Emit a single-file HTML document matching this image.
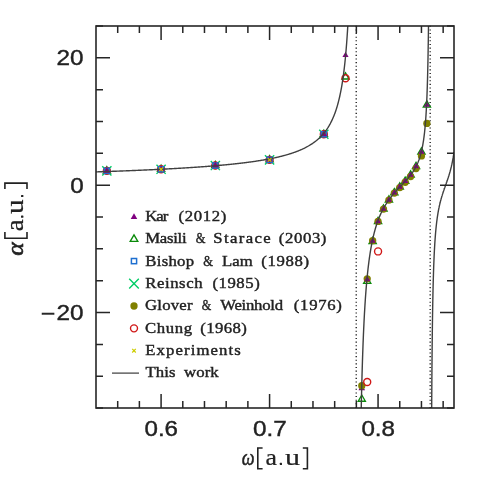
<!DOCTYPE html>
<html><head><meta charset="utf-8"><title>plot</title>
<style>html,body{margin:0;padding:0;background:#fff;overflow:hidden}svg{display:block;will-change:transform}text{font-family:"Liberation Sans",sans-serif;white-space:pre}.s{font-family:"Liberation Serif",serif}.i{font-family:"Liberation Serif",serif;font-style:italic}</style></head><body>
<svg width="479" height="479" viewBox="0 0 479 479">
<rect width="479" height="479" fill="#fff"/>
<defs><clipPath id="c"><rect x="96" y="26" width="358" height="382"/></clipPath></defs>
<line x1="356.25" y1="25.75" x2="356.25" y2="408" stroke="#2e2e2e" stroke-width="1.5" stroke-dasharray="1.1 2.53"/>
<line x1="430.20" y1="25.75" x2="430.20" y2="408" stroke="#2e2e2e" stroke-width="1.5" stroke-dasharray="1.1 2.53"/>
<g><path d="M106.85 166.72 L110.44 172.95 L103.25 172.95 Z" fill="none" stroke="#0a8a0a" stroke-width="1.35" stroke-linejoin="miter"/><path d="M161.09 165.13 L164.68 171.36 L157.50 171.36 Z" fill="none" stroke="#0a8a0a" stroke-width="1.35" stroke-linejoin="miter"/><path d="M215.33 161.38 L218.93 167.60 L211.74 167.60 Z" fill="none" stroke="#0a8a0a" stroke-width="1.35" stroke-linejoin="miter"/><path d="M269.58 155.71 L273.17 161.93 L265.98 161.93 Z" fill="none" stroke="#0a8a0a" stroke-width="1.35" stroke-linejoin="miter"/><path d="M323.82 130.11 L327.41 136.34 L320.22 136.34 Z" fill="none" stroke="#0a8a0a" stroke-width="1.35" stroke-linejoin="miter"/><path d="M345.52 72.81 L349.11 79.04 L341.92 79.04 Z" fill="none" stroke="#0a8a0a" stroke-width="1.35" stroke-linejoin="miter"/><path d="M361.79 394.98 L365.38 401.21 L358.19 401.21 Z" fill="none" stroke="#0a8a0a" stroke-width="1.35" stroke-linejoin="miter"/><path d="M367.21 277.19 L370.81 283.42 L363.62 283.42 Z" fill="none" stroke="#0a8a0a" stroke-width="1.35" stroke-linejoin="miter"/><path d="M372.64 237.46 L376.23 243.69 L369.04 243.69 Z" fill="none" stroke="#0a8a0a" stroke-width="1.35" stroke-linejoin="miter"/><path d="M378.06 217.28 L381.65 223.50 L374.47 223.50 Z" fill="none" stroke="#0a8a0a" stroke-width="1.35" stroke-linejoin="miter"/><path d="M383.49 204.93 L387.08 211.15 L379.89 211.15 Z" fill="none" stroke="#0a8a0a" stroke-width="1.35" stroke-linejoin="miter"/><path d="M388.91 195.95 L392.50 202.17 L385.32 202.17 Z" fill="none" stroke="#0a8a0a" stroke-width="1.35" stroke-linejoin="miter"/><path d="M394.33 188.63 L397.93 194.85 L390.74 194.85 Z" fill="none" stroke="#0a8a0a" stroke-width="1.35" stroke-linejoin="miter"/><path d="M399.76 182.77 L403.35 188.99 L396.16 188.99 Z" fill="none" stroke="#0a8a0a" stroke-width="1.35" stroke-linejoin="miter"/><path d="M405.18 177.17 L408.78 183.39 L401.59 183.39 Z" fill="none" stroke="#0a8a0a" stroke-width="1.35" stroke-linejoin="miter"/><path d="M410.61 170.93 L414.20 177.15 L407.01 177.15 Z" fill="none" stroke="#0a8a0a" stroke-width="1.35" stroke-linejoin="miter"/><path d="M416.03 162.27 L419.62 168.49 L412.44 168.49 Z" fill="none" stroke="#0a8a0a" stroke-width="1.35" stroke-linejoin="miter"/><path d="M421.45 147.94 L425.05 154.17 L417.86 154.17 Z" fill="none" stroke="#0a8a0a" stroke-width="1.35" stroke-linejoin="miter"/><path d="M426.88 100.83 L430.47 107.05 L423.29 107.05 Z" fill="none" stroke="#0a8a0a" stroke-width="1.35" stroke-linejoin="miter"/><path d="M102.25 166.27 L111.45 175.47 M102.25 175.47 L111.45 166.27" stroke="#00cd66" stroke-width="1.4" fill="none"/><path d="M156.49 164.68 L165.69 173.88 M156.49 173.88 L165.69 164.68" stroke="#00cd66" stroke-width="1.4" fill="none"/><path d="M210.73 160.93 L219.93 170.13 M210.73 170.13 L219.93 160.93" stroke="#00cd66" stroke-width="1.4" fill="none"/><path d="M264.98 155.26 L274.18 164.46 M264.98 164.46 L274.18 155.26" stroke="#00cd66" stroke-width="1.4" fill="none"/><path d="M319.22 129.66 L328.42 138.86 M319.22 138.86 L328.42 129.66" stroke="#00cd66" stroke-width="1.4" fill="none"/><path d="M361.79 384.51 L365.08 390.21 L358.50 390.21 Z" fill="#800080"/><circle cx="106.85" cy="170.87" r="3.65" fill="#808000"/><circle cx="161.09" cy="169.28" r="3.65" fill="#808000"/><circle cx="215.33" cy="165.53" r="3.65" fill="#808000"/><circle cx="269.58" cy="159.86" r="3.65" fill="#808000"/><circle cx="323.82" cy="134.26" r="3.65" fill="#808000"/><circle cx="367.21" cy="278.79" r="3.65" fill="#808000"/><circle cx="372.64" cy="240.66" r="3.65" fill="#808000"/><circle cx="378.06" cy="221.43" r="3.65" fill="#808000"/><circle cx="383.49" cy="209.08" r="3.65" fill="#808000"/><circle cx="388.91" cy="200.10" r="3.65" fill="#808000"/><circle cx="394.33" cy="193.10" r="3.65" fill="#808000"/><circle cx="399.76" cy="187.56" r="3.65" fill="#808000"/><circle cx="405.18" cy="182.27" r="3.65" fill="#808000"/><circle cx="410.61" cy="176.48" r="3.65" fill="#808000"/><circle cx="416.03" cy="168.52" r="3.65" fill="#808000"/><circle cx="421.45" cy="155.91" r="3.65" fill="#808000"/><circle cx="426.88" cy="123.44" r="3.65" fill="#808000"/><circle cx="361.79" cy="385.76" r="3.65" fill="#808000"/><circle cx="106.85" cy="170.87" r="3.5" fill="none" stroke="#d01818" stroke-width="1.4"/><circle cx="161.09" cy="169.28" r="3.5" fill="none" stroke="#d01818" stroke-width="1.4"/><circle cx="215.33" cy="165.53" r="3.5" fill="none" stroke="#d01818" stroke-width="1.4"/><circle cx="269.58" cy="159.86" r="3.5" fill="none" stroke="#d01818" stroke-width="1.4"/><circle cx="323.82" cy="134.26" r="3.5" fill="none" stroke="#d01818" stroke-width="1.4"/><circle cx="345.52" cy="78.23" r="3.5" fill="none" stroke="#d01818" stroke-width="1.4"/><circle cx="367.21" cy="381.94" r="3.5" fill="none" stroke="#d01818" stroke-width="1.4"/><circle cx="378.06" cy="251.42" r="3.5" fill="none" stroke="#d01818" stroke-width="1.4"/><rect x="104.25" y="168.27" width="5.20" height="5.20" fill="none" stroke="#1e6fd0" stroke-width="1.5"/><rect x="158.49" y="166.68" width="5.20" height="5.20" fill="none" stroke="#1e6fd0" stroke-width="1.5"/><rect x="212.73" y="162.93" width="5.20" height="5.20" fill="none" stroke="#1e6fd0" stroke-width="1.5"/><rect x="266.98" y="157.26" width="5.20" height="5.20" fill="none" stroke="#1e6fd0" stroke-width="1.5"/><rect x="321.22" y="131.66" width="5.20" height="5.20" fill="none" stroke="#1e6fd0" stroke-width="1.5"/><path d="M106.85 167.32 L109.92 172.65 L103.77 172.65 Z" fill="#800080"/><path d="M161.09 165.73 L164.17 171.06 L158.02 171.06 Z" fill="#800080"/><path d="M215.33 161.98 L218.41 167.30 L212.26 167.30 Z" fill="#800080"/><path d="M269.58 156.31 L272.65 161.63 L266.50 161.63 Z" fill="#800080"/><path d="M323.82 130.71 L326.89 136.04 L320.74 136.04 Z" fill="#800080"/><path d="M345.52 51.76 L348.59 57.09 L342.44 57.09 Z" fill="#800080"/><path d="M367.21 275.88 L370.29 281.21 L364.14 281.21 Z" fill="#800080"/><path d="M372.64 237.42 L375.71 242.75 L369.56 242.75 Z" fill="#800080"/><path d="M378.06 217.88 L381.14 223.20 L374.99 223.20 Z" fill="#800080"/><path d="M383.49 205.53 L386.56 210.85 L380.41 210.85 Z" fill="#800080"/><path d="M388.91 196.55 L391.98 201.87 L385.84 201.87 Z" fill="#800080"/><path d="M394.33 189.23 L397.41 194.55 L391.26 194.55 Z" fill="#800080"/><path d="M399.76 183.37 L402.83 188.69 L396.68 188.69 Z" fill="#800080"/><path d="M405.18 177.77 L408.26 183.09 L402.11 183.09 Z" fill="#800080"/><path d="M410.61 171.53 L413.68 176.85 L407.53 176.85 Z" fill="#800080"/><path d="M416.03 162.87 L419.11 168.19 L412.96 168.19 Z" fill="#800080"/><path d="M421.45 148.54 L424.53 153.87 L418.38 153.87 Z" fill="#800080"/><path d="M426.88 101.43 L429.95 106.75 L423.80 106.75 Z" fill="#800080"/></g>
<path d="M96.00 171.89 L96.43 171.87 L96.87 171.86 L97.30 171.84 L97.74 171.83 L98.17 171.82 L98.61 171.80 L99.04 171.79 L99.48 171.77 L99.91 171.76 L100.34 171.74 L100.78 171.73 L101.21 171.71 L101.65 171.70 L102.08 171.68 L102.52 171.67 L102.95 171.66 L103.39 171.64 L103.82 171.63 L104.25 171.61 L104.69 171.60 L105.12 171.58 L105.56 171.57 L105.99 171.55 L106.43 171.54 L106.86 171.52 L107.29 171.51 L107.73 171.49 L108.16 171.48 L108.60 171.46 L109.03 171.44 L109.47 171.43 L109.90 171.41 L110.34 171.40 L110.77 171.38 L111.20 171.37 L111.64 171.35 L112.07 171.34 L112.51 171.32 L112.94 171.31 L113.38 171.29 L113.81 171.27 L114.25 171.26 L114.68 171.24 L115.11 171.23 L115.55 171.21 L115.98 171.19 L116.42 171.18 L116.85 171.16 L117.29 171.15 L117.72 171.13 L118.16 171.11 L118.59 171.10 L119.02 171.08 L119.46 171.07 L119.89 171.05 L120.33 171.03 L120.76 171.02 L121.20 171.00 L121.63 170.98 L122.06 170.97 L122.50 170.95 L122.93 170.93 L123.37 170.92 L123.80 170.90 L124.24 170.88 L124.67 170.87 L125.11 170.85 L125.54 170.83 L125.97 170.82 L126.41 170.80 L126.84 170.78 L127.28 170.76 L127.71 170.75 L128.15 170.73 L128.58 170.71 L129.02 170.69 L129.45 170.68 L129.88 170.66 L130.32 170.64 L130.75 170.63 L131.19 170.61 L131.62 170.59 L132.06 170.57 L132.49 170.55 L132.93 170.54 L133.36 170.52 L133.79 170.50 L134.23 170.48 L134.66 170.46 L135.10 170.45 L135.53 170.43 L135.97 170.41 L136.40 170.39 L136.83 170.37 L137.27 170.36 L137.70 170.34 L138.14 170.32 L138.57 170.30 L139.01 170.28 L139.44 170.26 L139.88 170.24 L140.31 170.23 L140.74 170.21 L141.18 170.19 L141.61 170.17 L142.05 170.15 L142.48 170.13 L142.92 170.11 L143.35 170.09 L143.79 170.07 L144.22 170.05 L144.65 170.04 L145.09 170.02 L145.52 170.00 L145.96 169.98 L146.39 169.96 L146.83 169.94 L147.26 169.92 L147.70 169.90 L148.13 169.88 L148.56 169.86 L149.00 169.84 L149.43 169.82 L149.87 169.80 L150.30 169.78 L150.74 169.76 L151.17 169.74 L151.60 169.72 L152.04 169.70 L152.47 169.68 L152.91 169.66 L153.34 169.64 L153.78 169.62 L154.21 169.59 L154.65 169.57 L155.08 169.55 L155.51 169.53 L155.95 169.51 L156.38 169.49 L156.82 169.47 L157.25 169.45 L157.69 169.43 L158.12 169.41 L158.56 169.38 L158.99 169.36 L159.42 169.34 L159.86 169.32 L160.29 169.30 L160.73 169.28 L161.16 169.25 L161.60 169.23 L162.03 169.21 L162.47 169.19 L162.90 169.17 L163.33 169.14 L163.77 169.12 L164.20 169.10 L164.64 169.08 L165.07 169.05 L165.51 169.03 L165.94 169.01 L166.37 168.99 L166.81 168.96 L167.24 168.94 L167.68 168.92 L168.11 168.89 L168.55 168.87 L168.98 168.85 L169.42 168.82 L169.85 168.80 L170.28 168.78 L170.72 168.75 L171.15 168.73 L171.59 168.71 L172.02 168.68 L172.46 168.66 L172.89 168.63 L173.33 168.61 L173.76 168.58 L174.19 168.56 L174.63 168.54 L175.06 168.51 L175.50 168.49 L175.93 168.46 L176.37 168.44 L176.80 168.41 L177.24 168.39 L177.67 168.36 L178.10 168.34 L178.54 168.31 L178.97 168.29 L179.41 168.26 L179.84 168.24 L180.28 168.21 L180.71 168.18 L181.15 168.16 L181.58 168.13 L182.01 168.11 L182.45 168.08 L182.88 168.05 L183.32 168.03 L183.75 168.00 L184.19 167.97 L184.62 167.95 L185.05 167.92 L185.49 167.89 L185.92 167.87 L186.36 167.84 L186.79 167.81 L187.23 167.79 L187.66 167.76 L188.10 167.73 L188.53 167.70 L188.96 167.67 L189.40 167.65 L189.83 167.62 L190.27 167.59 L190.70 167.56 L191.14 167.53 L191.57 167.51 L192.01 167.48 L192.44 167.45 L192.87 167.42 L193.31 167.39 L193.74 167.36 L194.18 167.33 L194.61 167.30 L195.05 167.27 L195.48 167.24 L195.92 167.21 L196.35 167.18 L196.78 167.15 L197.22 167.12 L197.65 167.09 L198.09 167.06 L198.52 167.03 L198.96 167.00 L199.39 166.97 L199.82 166.94 L200.26 166.91 L200.69 166.88 L201.13 166.85 L201.56 166.81 L202.00 166.78 L202.43 166.75 L202.87 166.72 L203.30 166.69 L203.73 166.66 L204.17 166.62 L204.60 166.59 L205.04 166.56 L205.47 166.52 L205.91 166.49 L206.34 166.46 L206.78 166.43 L207.21 166.39 L207.64 166.36 L208.08 166.32 L208.51 166.29 L208.95 166.26 L209.38 166.22 L209.82 166.19 L210.25 166.15 L210.69 166.12 L211.12 166.08 L211.55 166.05 L211.99 166.01 L212.42 165.98 L212.86 165.94 L213.29 165.91 L213.73 165.87 L214.16 165.83 L214.59 165.80 L215.03 165.76 L215.46 165.72 L215.90 165.69 L216.33 165.65 L216.77 165.61 L217.20 165.58 L217.64 165.54 L218.07 165.50 L218.50 165.46 L218.94 165.42 L219.37 165.39 L219.81 165.35 L220.24 165.31 L220.68 165.27 L221.11 165.23 L221.55 165.19 L221.98 165.15 L222.41 165.11 L222.85 165.07 L223.28 165.03 L223.72 164.99 L224.15 164.95 L224.59 164.91 L225.02 164.87 L225.46 164.83 L225.89 164.78 L226.32 164.74 L226.76 164.70 L227.19 164.66 L227.63 164.61 L228.06 164.57 L228.50 164.53 L228.93 164.49 L229.36 164.44 L229.80 164.40 L230.23 164.35 L230.67 164.31 L231.10 164.26 L231.54 164.22 L231.97 164.17 L232.41 164.13 L232.84 164.08 L233.27 164.04 L233.71 163.99 L234.14 163.94 L234.58 163.90 L235.01 163.85 L235.45 163.80 L235.88 163.76 L236.32 163.71 L236.75 163.66 L237.18 163.61 L237.62 163.56 L238.05 163.51 L238.49 163.46 L238.92 163.41 L239.36 163.36 L239.79 163.31 L240.23 163.26 L240.66 163.21 L241.09 163.16 L241.53 163.11 L241.96 163.06 L242.40 163.01 L242.83 162.95 L243.27 162.90 L243.70 162.85 L244.13 162.79 L244.57 162.74 L245.00 162.68 L245.44 162.63 L245.87 162.57 L246.31 162.52 L246.74 162.46 L247.18 162.41 L247.61 162.35 L248.04 162.29 L248.48 162.24 L248.91 162.18 L249.35 162.12 L249.78 162.06 L250.22 162.00 L250.65 161.94 L251.09 161.88 L251.52 161.82 L251.95 161.76 L252.39 161.70 L252.82 161.64 L253.26 161.58 L253.69 161.51 L254.13 161.45 L254.56 161.39 L255.00 161.32 L255.43 161.26 L255.86 161.19 L256.30 161.13 L256.73 161.06 L257.17 161.00 L257.60 160.93 L258.04 160.86 L258.47 160.79 L258.91 160.73 L259.34 160.66 L259.77 160.59 L260.21 160.52 L260.64 160.45 L261.08 160.37 L261.51 160.30 L261.95 160.23 L262.38 160.16 L262.81 160.08 L263.25 160.01 L263.68 159.94 L264.12 159.86 L264.55 159.78 L264.99 159.71 L265.42 159.63 L265.86 159.55 L266.29 159.47 L266.72 159.39 L267.16 159.31 L267.59 159.23 L268.03 159.15 L268.46 159.07 L268.90 158.99 L269.33 158.90 L269.77 158.82 L270.20 158.74 L270.63 158.65 L271.07 158.56 L271.50 158.48 L271.94 158.39 L272.37 158.30 L272.81 158.21 L273.24 158.12 L273.68 158.03 L274.11 157.93 L274.54 157.84 L274.98 157.75 L275.41 157.65 L275.85 157.56 L276.28 157.46 L276.72 157.36 L277.15 157.26 L277.58 157.16 L278.02 157.06 L278.45 156.96 L278.89 156.86 L279.32 156.76 L279.76 156.65 L280.19 156.54 L280.63 156.44 L281.06 156.33 L281.49 156.22 L281.93 156.11 L282.36 156.00 L282.80 155.89 L283.23 155.77 L283.67 155.66 L284.10 155.54 L284.54 155.42 L284.97 155.30 L285.40 155.18 L285.84 155.06 L286.27 154.94 L286.71 154.82 L287.14 154.69 L287.58 154.56 L288.01 154.43 L288.45 154.30 L288.88 154.17 L289.31 154.04 L289.75 153.90 L290.18 153.77 L290.62 153.63 L291.05 153.49 L291.49 153.35 L291.92 153.20 L292.35 153.06 L292.79 152.91 L293.22 152.76 L293.66 152.61 L294.09 152.46 L294.53 152.31 L294.96 152.15 L295.40 151.99 L295.83 151.83 L296.26 151.67 L296.70 151.50 L297.13 151.34 L297.57 151.17 L298.00 150.99 L298.44 150.82 L298.87 150.64 L299.31 150.46 L299.74 150.28 L300.17 150.10 L300.61 149.91 L301.04 149.72 L301.48 149.53 L301.91 149.33 L302.35 149.14 L302.78 148.93 L303.22 148.73 L303.65 148.52 L304.08 148.31 L304.52 148.10 L304.95 147.88 L305.39 147.66 L305.82 147.43 L306.26 147.21 L306.69 146.98 L307.12 146.74 L307.56 146.50 L307.99 146.26 L308.43 146.01 L308.86 145.76 L309.30 145.50 L309.73 145.24 L310.17 144.97 L310.60 144.70 L311.03 144.43 L311.47 144.15 L311.90 143.86 L312.34 143.57 L312.77 143.28 L313.21 142.97 L313.64 142.67 L314.08 142.35 L314.51 142.03 L314.94 141.71 L315.38 141.37 L315.81 141.03 L316.25 140.69 L316.68 140.33 L317.12 139.97 L317.55 139.60 L317.99 139.23 L318.42 138.84 L318.85 138.45 L319.29 138.05 L319.72 137.63 L320.16 137.21 L320.59 136.78 L321.03 136.34 L321.46 135.89 L321.89 135.43 L322.33 134.95 L322.76 134.47 L323.20 133.97 L323.63 133.46 L324.07 132.93 L324.50 132.39 L324.94 131.84 L325.37 131.27 L325.80 130.69 L326.24 130.09 L326.67 129.47 L327.11 128.84 L327.54 128.19 L327.98 127.52 L328.41 126.82 L328.85 126.11 L329.28 125.37 L329.71 124.61 L330.15 123.83 L330.58 123.02 L331.02 122.18 L331.45 121.32 L331.89 120.42 L332.32 119.50 L332.76 118.53 L333.19 117.54 L333.62 116.51 L334.06 115.43 L334.49 114.32 L334.93 113.16 L335.36 111.95 L335.80 110.70 L336.23 109.39 L336.67 108.02 L337.10 106.59 L337.53 105.10 L337.97 103.53 L338.40 101.89 L338.84 100.18 L339.27 98.37 L339.71 96.47 L340.14 94.47 L340.57 92.36 L341.01 90.14 L341.44 87.78 L341.88 85.28 L342.31 82.63 L342.75 79.81 L343.18 76.80 L343.62 73.59 L344.05 70.15 L344.48 66.46 L344.92 62.49 L345.35 58.20 L345.79 53.56 L346.22 48.52 L346.66 43.03 L347.09 37.02 L347.53 30.41 L347.96 23.11 L348.39 15.00 L348.83 5.95 L349.26 -4.22 L349.70 -15.75 L350.13 -28.90 L350.57 -44.07 L351.00 -61.76 L351.44 -82.63 L351.87 -107.65 L352.30 -138.19 L352.74 -176.31 M359.35 554.53 L359.47 539.73 L359.60 526.03 L359.72 513.30 L359.85 501.44 L359.97 490.36 L360.09 479.99 L360.22 470.27 L360.34 461.13 L360.46 452.53 L360.59 444.42 L360.71 436.75 L360.84 429.49 L360.96 422.62 L361.08 416.09 L361.21 409.89 L361.33 403.99 L361.45 398.37 L361.58 393.01 L361.70 387.89 L361.83 382.99 L361.95 378.31 L362.07 373.82 L362.20 369.53 L362.32 365.40 L362.44 361.44 L362.57 357.63 L362.69 353.97 L362.82 350.45 L362.94 347.05 L363.06 343.78 L363.19 340.62 L363.31 337.58 L363.43 334.63 L363.56 331.79 L363.68 329.04 L363.81 326.38 L363.93 323.81 L364.05 321.31 L364.18 318.90 L364.30 316.55 L364.42 314.28 L364.55 312.07 L364.67 309.93 L364.80 307.85 L364.92 305.83 L365.04 303.87 L365.17 301.96 L365.29 300.10 L365.41 298.29 L365.54 296.53 L365.66 294.81 L365.79 293.14 L365.91 291.51 L366.03 289.92 L366.16 288.37 L366.28 286.86 L366.40 285.39 L366.53 283.95 L366.65 282.54 L366.78 281.17 L366.90 279.82 L367.02 278.51 L367.15 277.23 L367.27 275.97 L367.39 274.75 L367.52 273.55 L367.64 272.37 L367.77 271.22 L367.89 270.10 L368.01 268.99 L368.14 267.91 L368.26 266.86 L368.38 265.82 L368.51 264.80 L368.63 263.81 L368.76 262.83 L368.88 261.87 L369.00 260.93 L369.13 260.01 L369.25 259.10 L369.37 258.21 L369.50 257.34 L369.62 256.49 L369.75 255.64 L369.87 254.82 L369.99 254.01 L370.12 253.21 L370.24 252.42 L370.36 251.65 L370.49 250.90 L370.61 250.15 L370.74 249.42 L370.86 248.70 L370.98 247.99 L371.11 247.29 L371.23 246.61 L371.35 245.93 L371.48 245.27 L371.60 244.61 L371.73 243.97 L371.85 243.33 L371.97 242.71 L372.10 242.09 L372.22 241.49 L372.34 240.89 L372.47 240.30 L372.59 239.72 L372.72 239.15 L372.84 238.59 L372.96 238.03 L373.09 237.49 L373.21 236.95 L373.33 236.41 L373.46 235.89 L373.58 235.37 L373.71 234.86 L373.83 234.36 L373.95 233.86 L374.08 233.37 L374.20 232.89 L374.32 232.41 L374.45 231.94 L374.57 231.47 L374.70 231.01 L374.82 230.56 L374.94 230.11 L375.07 229.67 L375.19 229.23 L375.31 228.80 L375.44 228.37 L375.56 227.95 L375.69 227.53 L375.81 227.12 L375.93 226.71 L376.06 226.31 L376.18 225.92 L376.30 225.52 L376.43 225.13 L376.55 224.75 L376.68 224.37 L376.80 224.00 L376.92 223.63 L377.05 223.26 L377.17 222.90 L377.29 222.54 L377.42 222.18 L377.54 221.83 L377.67 221.48 L377.79 221.14 L377.91 220.80 L378.04 220.46 L378.16 220.13 L378.28 219.80 L378.41 219.47 L378.53 219.15 L378.66 218.83 L378.78 218.51 L378.90 218.20 L379.03 217.89 L379.15 217.58 L379.27 217.28 L379.40 216.98 L379.52 216.68 L379.65 216.38 L379.77 216.09 L379.89 215.80 L380.02 215.51 L380.14 215.23 L380.26 214.94 L380.39 214.67 L380.51 214.39 L380.64 214.11 L380.76 213.84 L380.88 213.57 L381.01 213.30 L381.13 213.04 L381.25 212.78 L381.38 212.52 L381.50 212.26 L381.63 212.00 L381.75 211.75 L381.87 211.50 L382.00 211.25 L382.12 211.00 L382.24 210.75 L382.37 210.51 L382.49 210.27 L382.62 210.03 L382.74 209.79 L382.86 209.55 L382.99 209.32 L383.11 209.09 L383.23 208.86 L383.36 208.63 L383.48 208.40 L383.61 208.17 L383.73 207.95 L383.85 207.73 L383.98 207.51 L384.10 207.29 L384.22 207.07 L384.35 206.86 L384.47 206.64 L384.60 206.43 L384.72 206.22 L384.84 206.01 L384.97 205.80 L385.09 205.60 L385.21 205.39 L385.34 205.19 L385.46 204.99 L385.59 204.78 L385.71 204.58 L385.83 204.39 L385.96 204.19 L386.08 203.99 L386.20 203.80 L386.33 203.61 L386.45 203.41 L386.58 203.22 L386.70 203.03 L386.82 202.84 L386.95 202.66 L387.07 202.47 L387.19 202.29 L387.32 202.10 L387.44 201.92 L387.57 201.74 L387.69 201.56 L387.81 201.38 L387.94 201.20 L388.06 201.02 L388.18 200.84 L388.31 200.67 L388.43 200.49 L388.56 200.32 L388.68 200.15 L388.80 199.97 L388.93 199.80 L389.05 199.63 L389.17 199.46 L389.30 199.30 L389.42 199.13 L389.55 198.96 L389.67 198.80 L389.79 198.63 L389.92 198.47 L390.04 198.30 L390.16 198.14 L390.29 197.98 L390.41 197.82 L390.54 197.66 L390.66 197.50 L390.78 197.34 L390.91 197.18 L391.03 197.03 L391.15 196.87 L391.28 196.71 L391.40 196.56 L391.52 196.40 L391.65 196.25 L391.77 196.10 L391.90 195.94 L392.02 195.79 L392.14 195.64 L392.27 195.49 L392.39 195.34 L392.51 195.19 L392.64 195.04 L392.76 194.89 L392.89 194.74 L393.01 194.60 L393.13 194.45 L393.26 194.30 L393.38 194.16 L393.50 194.01 L393.63 193.87 L393.75 193.72 L393.88 193.58 L394.00 193.44 L394.12 193.29 L394.25 193.15 L394.37 193.01 L394.49 192.87 L394.62 192.73 L394.74 192.59 L394.87 192.45 L394.99 192.31 L395.11 192.17 L395.24 192.03 L395.36 191.89 L395.48 191.75 L395.61 191.61 L395.73 191.47 L395.86 191.34 L395.98 191.20 L396.10 191.06 L396.23 190.93 L396.35 190.79 L396.47 190.66 L396.60 190.52 L396.72 190.39 L396.85 190.25 L396.97 190.12 L397.09 189.98 L397.22 189.85 L397.34 189.71 L397.46 189.58 L397.59 189.45 L397.71 189.31 L397.84 189.18 L397.96 189.05 L398.08 188.92 L398.21 188.78 L398.33 188.65 L398.45 188.52 L398.58 188.39 L398.70 188.26 L398.83 188.13 L398.95 187.99 L399.07 187.86 L399.20 187.73 L399.32 187.60 L399.44 187.47 L399.57 187.34 L399.69 187.21 L399.82 187.08 L399.94 186.95 L400.06 186.82 L400.19 186.69 L400.31 186.56 L400.43 186.43 L400.56 186.30 L400.68 186.17 L400.81 186.04 L400.93 185.91 L401.05 185.78 L401.18 185.65 L401.30 185.52 L401.42 185.39 L401.55 185.26 L401.67 185.13 L401.80 185.00 L401.92 184.87 L402.04 184.74 L402.17 184.61 L402.29 184.48 L402.41 184.35 L402.54 184.22 L402.66 184.09 L402.79 183.96 L402.91 183.83 L403.03 183.70 L403.16 183.57 L403.28 183.44 L403.40 183.30 L403.53 183.17 L403.65 183.04 L403.78 182.91 L403.90 182.78 L404.02 182.65 L404.15 182.51 L404.27 182.38 L404.39 182.25 L404.52 182.12 L404.64 181.98 L404.77 181.85 L404.89 181.71 L405.01 181.58 L405.14 181.45 L405.26 181.31 L405.38 181.18 L405.51 181.04 L405.63 180.91 L405.76 180.77 L405.88 180.63 L406.00 180.50 L406.13 180.36 L406.25 180.22 L406.37 180.08 L406.50 179.95 L406.62 179.81 L406.75 179.67 L406.87 179.53 L406.99 179.39 L407.12 179.25 L407.24 179.11 L407.36 178.97 L407.49 178.82 L407.61 178.68 L407.74 178.54 L407.86 178.39 L407.98 178.25 L408.11 178.10 L408.23 177.96 L408.35 177.81 L408.48 177.67 L408.60 177.52 L408.73 177.37 L408.85 177.22 L408.97 177.07 L409.10 176.92 L409.22 176.77 L409.34 176.62 L409.47 176.47 L409.59 176.31 L409.72 176.16 L409.84 176.00 L409.96 175.85 L410.09 175.69 L410.21 175.53 L410.33 175.37 L410.46 175.21 L410.58 175.05 L410.71 174.89 L410.83 174.73 L410.95 174.56 L411.08 174.40 L411.20 174.23 L411.32 174.07 L411.45 173.90 L411.57 173.73 L411.70 173.56 L411.82 173.39 L411.94 173.21 L412.07 173.04 L412.19 172.86 L412.31 172.68 L412.44 172.51 L412.56 172.33 L412.69 172.14 L412.81 171.96 L412.93 171.78 L413.06 171.59 L413.18 171.40 L413.30 171.21 L413.43 171.02 L413.55 170.83 L413.68 170.63 L413.80 170.44 L413.92 170.24 L414.05 170.04 L414.17 169.84 L414.29 169.63 L414.42 169.43 L414.54 169.22 L414.67 169.01 L414.79 168.79 L414.91 168.58 L415.04 168.36 L415.16 168.14 L415.28 167.92 L415.41 167.69 L415.53 167.47 L415.66 167.24 L415.78 167.00 L415.90 166.77 L416.03 166.53 L416.15 166.29 L416.27 166.04 L416.40 165.80 L416.52 165.54 L416.65 165.29 L416.77 165.03 L416.89 164.77 L417.02 164.51 L417.14 164.24 L417.26 163.97 L417.39 163.69 L417.51 163.41 L417.64 163.12 L417.76 162.84 L417.88 162.54 L418.01 162.24 L418.13 161.94 L418.25 161.63 L418.38 161.32 L418.50 161.00 L418.63 160.68 L418.75 160.35 L418.87 160.02 L419.00 159.68 L419.12 159.33 L419.24 158.98 L419.37 158.62 L419.49 158.26 L419.62 157.88 L419.74 157.50 L419.86 157.12 L419.99 156.72 L420.11 156.32 L420.23 155.91 L420.36 155.49 L420.48 155.06 L420.61 154.62 L420.73 154.18 L420.85 153.72 L420.98 153.25 L421.10 152.77 L421.22 152.28 L421.35 151.78 L421.47 151.27 L421.60 150.74 L421.72 150.20 L421.84 149.65 L421.97 149.08 L422.09 148.50 L422.21 147.90 L422.34 147.29 L422.46 146.65 L422.59 146.00 L422.71 145.33 L422.83 144.64 L422.96 143.93 L423.08 143.20 L423.20 142.45 L423.33 141.67 L423.45 140.86 L423.58 140.03 L423.70 139.17 L423.82 138.28 L423.95 137.36 L424.07 136.41 L424.19 135.42 L424.32 134.39 L424.44 133.32 L424.57 132.21 L424.69 131.05 L424.81 129.85 L424.94 128.59 L425.06 127.28 L425.18 125.91 L425.31 124.47 L425.43 122.97 L425.56 121.39 L425.68 119.73 L425.80 117.99 L425.93 116.16 L426.05 114.22 L426.17 112.18 L426.30 110.01 L426.42 107.72 L426.55 105.28 L426.67 102.68 L426.79 99.92 L426.92 96.96 L427.04 93.78 L427.16 90.37 L427.29 86.69 L427.41 82.72 L427.54 78.40 L427.66 73.71 L427.78 68.57 L427.91 62.94 L428.03 56.72 L428.15 49.82 L428.28 42.14 L428.40 33.50 L428.53 23.74 L428.65 12.62 L428.77 -0.19 L428.90 -15.09 L429.02 -32.64 L429.14 -53.63 L429.27 -79.18 L429.39 -110.97 L429.52 -151.59 M431.17 561.53 L431.21 542.89 L431.25 525.98 L431.29 510.57 L431.33 496.46 L431.37 483.50 L431.41 471.55 L431.45 460.51 L431.49 450.26 L431.53 440.72 L431.57 431.84 L431.61 423.53 L431.65 415.74 L431.68 408.44 L431.72 401.57 L431.76 395.09 L431.80 388.98 L431.84 383.20 L431.88 377.72 L431.92 372.53 L431.96 367.60 L432.00 362.91 L432.04 358.45 L432.08 354.20 L432.12 350.14 L432.16 346.26 L432.20 342.55 L432.24 338.99 L432.27 335.59 L432.31 332.33 L432.35 329.19 L432.39 326.18 L432.43 323.29 L432.47 320.50 L432.51 317.82 L432.55 315.24 L432.59 312.74 L432.63 310.34 L432.67 308.01 L432.71 305.77 L432.75 303.60 L432.79 301.50 L432.83 299.47 L432.87 297.50 L432.90 295.59 L432.94 293.75 L432.98 291.95 L433.02 290.21 L433.06 288.52 L433.10 286.88 L433.14 285.29 L433.18 283.74 L433.22 282.23 L433.26 280.77 L433.30 279.34 L433.34 277.95 L433.38 276.60 L433.42 275.28 L433.46 273.99 L433.49 272.74 L433.53 271.52 L433.57 270.32 L433.61 269.16 L433.65 268.02 L433.69 266.91 L433.73 265.83 L433.77 264.77 L433.81 263.73 L433.85 262.72 L433.89 261.73 L433.93 260.76 L433.97 259.81 L434.01 258.88 L434.05 257.97 L434.09 257.08 L434.12 256.21 L434.16 255.36 L434.20 254.52 L434.24 253.70 L434.28 252.89 L434.32 252.11 L434.36 251.33 L434.40 250.57 L434.44 249.83 L434.48 249.10 L434.52 248.38 L434.56 247.67 L434.60 246.98 L434.64 246.30 L434.68 245.63 L434.72 244.98 L434.75 244.33 L434.79 243.70 L434.83 243.08 L434.87 242.47 L434.91 241.86 L434.95 241.27 L434.99 240.69 L435.03 240.11 L435.07 239.55 L435.11 239.00 L435.15 238.45 L435.19 237.91 L435.23 237.38 L435.27 236.86 L435.31 236.35 L435.34 235.84 L435.38 235.34 L435.42 234.85 L435.46 234.37 L435.50 233.89 L435.54 233.42 L435.58 232.95 L435.62 232.50 L435.66 232.05 L435.70 231.60 L435.74 231.16 L435.78 230.73 L435.82 230.30 L435.86 229.88 L435.90 229.47 L435.94 229.06 L435.97 228.65 L436.01 228.25 L436.05 227.86 L436.09 227.47 L436.13 227.09 L436.17 226.71 L436.21 226.33 L436.25 225.96 L436.29 225.60 L436.33 225.23 L436.37 224.88 L436.41 224.52 L436.45 224.18 L436.49 223.83 L436.53 223.49 L436.56 223.15 L436.60 222.82 L436.64 222.49 L436.68 222.17 L436.72 221.84 L436.76 221.53 L436.80 221.21 L436.84 220.90 L436.88 220.59 L436.92 220.29 L436.96 219.99 L437.00 219.69 L437.04 219.39 L437.08 219.10 L437.12 218.81 L437.16 218.53 L437.19 218.24 L437.23 217.96 L437.27 217.68 L437.31 217.41 L437.35 217.14 L437.39 216.87 L437.43 216.60 L437.47 216.34 L437.51 216.07 L437.55 215.81 L437.59 215.56 L437.63 215.30 L437.67 215.05 L437.71 214.80 L437.75 214.55 L437.78 214.31 L437.82 214.06 L437.86 213.82 L437.90 213.58 L437.94 213.35 L437.98 213.11 L438.02 212.88 L438.06 212.65 L438.10 212.42 L438.14 212.19 L438.18 211.97 L438.22 211.75 L438.26 211.52 L438.30 211.30 L438.34 211.09 L438.38 210.87 L438.41 210.66 L438.45 210.44 L438.49 210.23 L438.53 210.02 L438.57 209.82 L438.61 209.61 L438.65 209.41 L438.69 209.20 L438.73 209.00 L438.77 208.80 L438.81 208.60 L438.85 208.41 L438.89 208.21 L438.93 208.02 L438.97 207.82 L439.01 207.63 L439.04 207.44 L439.08 207.25 L439.12 207.06 L439.16 206.88 L439.20 206.69 L439.24 206.51 L439.28 206.33 L439.32 206.15 L439.36 205.97 L439.40 205.79 L439.44 205.61 L439.48 205.43 L439.52 205.26 L439.56 205.08 L439.60 204.91 L439.63 204.74 L439.67 204.57 L439.71 204.40 L439.75 204.23 L439.79 204.06 L439.83 203.89 L439.87 203.73 L439.91 203.56 L439.95 203.40 L439.99 203.23 L440.03 203.07 L440.07 202.91 L440.11 202.75 L440.15 202.59 L440.19 202.43 L440.23 202.27 L440.26 202.12 L440.30 201.96 L440.34 201.81 L440.38 201.65 L440.42 201.50 L440.46 201.35 L440.50 201.19 L440.54 201.04 L440.58 200.89 L440.62 200.74 L440.66 200.59 L440.70 200.45 L440.74 200.30 L440.78 200.15 L440.82 200.01 L440.85 199.86 L440.89 199.72 L440.93 199.57 L440.97 199.43 L441.01 199.29 L441.05 199.14 L441.09 199.00 L441.13 198.86 L441.17 198.72 L441.21 198.58 L441.25 198.44 L441.29 198.30 L441.33 198.17 L441.37 198.03 L441.41 197.89 L441.45 197.76 L441.48 197.62 L441.52 197.49 L441.56 197.35 L441.60 197.22 L441.64 197.08 L441.68 196.95 L441.72 196.82 L441.76 196.69 L441.80 196.56 L441.84 196.42 L441.88 196.29 L441.92 196.16 L441.96 196.03 L442.00 195.91 L442.04 195.78 L442.07 195.65 L442.11 195.52 L442.15 195.39 L442.19 195.27 L442.23 195.14 L442.27 195.01 L442.31 194.89 L442.35 194.76 L442.39 194.64 L442.43 194.51 L442.47 194.39 L442.51 194.27 L442.55 194.14 L442.59 194.02 L442.63 193.90 L442.67 193.77 L442.70 193.65 L442.74 193.53 L442.78 193.41 L442.82 193.29 L442.86 193.17 L442.90 193.05 L442.94 192.93 L442.98 192.81 L443.02 192.69 L443.06 192.57 L443.10 192.45 L443.14 192.33 L443.18 192.21 L443.22 192.09 L443.26 191.97 L443.30 191.86 L443.33 191.74 L443.37 191.62 L443.41 191.51 L443.45 191.39 L443.49 191.27 L443.53 191.16 L443.57 191.04 L443.61 190.92 L443.65 190.81 L443.69 190.69 L443.73 190.58 L443.77 190.46 L443.81 190.35 L443.85 190.23 L443.89 190.12 L443.92 190.01 L443.96 189.89 L444.00 189.78 L444.04 189.66 L444.08 189.55 L444.12 189.44 L444.16 189.32 L444.20 189.21 L444.24 189.10 L444.28 188.98 L444.32 188.87 L444.36 188.76 L444.40 188.65 L444.44 188.53 L444.48 188.42 L444.52 188.31 L444.55 188.20 L444.59 188.09 L444.63 187.97 L444.67 187.86 L444.71 187.75 L444.75 187.64 L444.79 187.53 L444.83 187.42 L444.87 187.31 L444.91 187.19 L444.95 187.08 L444.99 186.97 L445.03 186.86 L445.07 186.75 L445.11 186.64 L445.14 186.53 L445.18 186.42 L445.22 186.31 L445.26 186.20 L445.30 186.08 L445.34 185.97 L445.38 185.86 L445.42 185.75 L445.46 185.64 L445.50 185.53 L445.54 185.42 L445.58 185.31 L445.62 185.20 L445.66 185.09 L445.70 184.98 L445.74 184.87 L445.77 184.76 L445.81 184.65 L445.85 184.53 L445.89 184.42 L445.93 184.31 L445.97 184.20 L446.01 184.09 L446.05 183.98 L446.09 183.87 L446.13 183.76 L446.17 183.65 L446.21 183.54 L446.25 183.42 L446.29 183.31 L446.33 183.20 L446.37 183.09 L446.40 182.98 L446.44 182.87 L446.48 182.75 L446.52 182.64 L446.56 182.53 L446.60 182.42 L446.64 182.31 L446.68 182.19 L446.72 182.08 L446.76 181.97 L446.80 181.86 L446.84 181.74 L446.88 181.63 L446.92 181.52 L446.96 181.40 L446.99 181.29 L447.03 181.18 L447.07 181.06 L447.11 180.95 L447.15 180.83 L447.19 180.72 L447.23 180.61 L447.27 180.49 L447.31 180.38 L447.35 180.26 L447.39 180.15 L447.43 180.03 L447.47 179.91 L447.51 179.80 L447.55 179.68 L447.59 179.57 L447.62 179.45 L447.66 179.33 L447.70 179.22 L447.74 179.10 L447.78 178.98 L447.82 178.86 L447.86 178.75 L447.90 178.63 L447.94 178.51 L447.98 178.39 L448.02 178.27 L448.06 178.15 L448.10 178.03 L448.14 177.91 L448.18 177.79 L448.21 177.67 L448.25 177.55 L448.29 177.43 L448.33 177.31 L448.37 177.19 L448.41 177.06 L448.45 176.94 L448.49 176.82 L448.53 176.70 L448.57 176.57 L448.61 176.45 L448.65 176.32 L448.69 176.20 L448.73 176.08 L448.77 175.95 L448.81 175.82 L448.84 175.70 L448.88 175.57 L448.92 175.44 L448.96 175.32 L449.00 175.19 L449.04 175.06 L449.08 174.93 L449.12 174.80 L449.16 174.67 L449.20 174.54 L449.24 174.41 L449.28 174.28 L449.32 174.15 L449.36 174.02 L449.40 173.89 L449.43 173.76 L449.47 173.62 L449.51 173.49 L449.55 173.35 L449.59 173.22 L449.63 173.08 L449.67 172.95 L449.71 172.81 L449.75 172.68 L449.79 172.54 L449.83 172.40 L449.87 172.26 L449.91 172.12 L449.95 171.98 L449.99 171.84 L450.03 171.70 L450.06 171.56 L450.10 171.42 L450.14 171.27 L450.18 171.13 L450.22 170.99 L450.26 170.84 L450.30 170.70 L450.34 170.55 L450.38 170.40 L450.42 170.25 L450.46 170.11 L450.50 169.96 L450.54 169.81 L450.58 169.66 L450.62 169.51 L450.66 169.35 L450.69 169.20 L450.73 169.05 L450.77 168.89 L450.81 168.74 L450.85 168.58 L450.89 168.43 L450.93 168.27 L450.97 168.11 L451.01 167.95 L451.05 167.79 L451.09 167.63 L451.13 167.47 L451.17 167.30 L451.21 167.14 L451.25 166.98 L451.28 166.81 L451.32 166.64 L451.36 166.48 L451.40 166.31 L451.44 166.14 L451.48 165.97 L451.52 165.79 L451.56 165.62 L451.60 165.45 L451.64 165.27 L451.68 165.10 L451.72 164.92 L451.76 164.74 L451.80 164.56 L451.84 164.38 L451.88 164.20 L451.91 164.02 L451.95 163.83 L451.99 163.65 L452.03 163.46 L452.07 163.28 L452.11 163.09 L452.15 162.90 L452.19 162.71 L452.23 162.51 L452.27 162.32 L452.31 162.12 L452.35 161.93 L452.39 161.73 L452.43 161.53 L452.47 161.33 L452.50 161.12 L452.54 160.92 L452.58 160.71 L452.62 160.51 L452.66 160.30 L452.70 160.09 L452.74 159.88 L452.78 159.66 L452.82 159.45 L452.86 159.23 L452.90 159.01 L452.94 158.79 L452.98 158.57 L453.02 158.35 L453.06 158.12 L453.10 157.89 L453.13 157.66 L453.17 157.43 L453.21 157.20 L453.25 156.96 L453.29 156.73 L453.33 156.49 L453.37 156.25 L453.41 156.00 L453.45 155.76 L453.49 155.51 L453.53 155.26 L453.57 155.01 L453.61 154.75 L453.65 154.50 L453.69 154.24 L453.72 153.98 L453.76 153.71 L453.80 153.45 L453.84 153.18 L453.88 152.91 L453.92 152.63 L453.96 152.36 L454.00 152.08" fill="none" stroke="#404040" stroke-width="1.4" clip-path="url(#c)" stroke-linejoin="round"/>
<path d="M159.29 167.48 L162.89 171.08 M159.29 171.08 L162.89 167.48" stroke="#cdcd00" stroke-width="1.2" fill="none"/>
<path d="M267.78 158.06 L271.38 161.66 M267.78 161.66 L271.38 158.06" stroke="#cdcd00" stroke-width="1.2" fill="none"/>
<path d="M117.70 26 V33 M117.70 408 V401 M139.39 26 V33 M139.39 408 V401 M161.09 26 V40 M161.09 408 V394 M182.79 26 V33 M182.79 408 V401 M204.48 26 V33 M204.48 408 V401 M226.18 26 V33 M226.18 408 V401 M247.88 26 V33 M247.88 408 V401 M269.58 26 V40 M269.58 408 V394 M291.27 26 V33 M291.27 408 V401 M312.97 26 V33 M312.97 408 V401 M334.67 26 V33 M334.67 408 V401 M356.36 26 V33 M356.36 408 V401 M378.06 26 V40 M378.06 408 V394 M399.76 26 V33 M399.76 408 V401 M421.45 26 V33 M421.45 408 V401 M443.15 26 V33 M443.15 408 V401 M96 408.04 H103 M454 408.04 H447 M96 376.21 H103 M454 376.21 H447 M96 344.38 H103 M454 344.38 H447 M96 312.54 H110 M454 312.54 H440 M96 280.70 H103 M454 280.70 H447 M96 248.87 H103 M454 248.87 H447 M96 217.03 H103 M454 217.03 H447 M96 185.20 H110 M454 185.20 H440 M96 153.36 H103 M454 153.36 H447 M96 121.53 H103 M454 121.53 H447 M96 89.69 H103 M454 89.69 H447 M96 57.86 H110 M454 57.86 H440 M96 26.02 H103 M454 26.02 H447" stroke="#262626" stroke-width="1.5" fill="none"/>
<rect x="96" y="26" width="358" height="382" fill="none" stroke="#262626" stroke-width="1.6"/>
<text transform="translate(144.45 435.70) scale(1.1297 1)" font-size="21.4" letter-spacing="0.000" fill="#222" stroke="#222" stroke-width="0.4">0.6</text>
<text transform="translate(252.93 435.70) scale(1.1352 1)" font-size="21.4" letter-spacing="0.000" fill="#222" stroke="#222" stroke-width="0.4">0.7</text>
<text transform="translate(361.42 435.70) scale(1.1293 1)" font-size="21.4" letter-spacing="0.000" fill="#222" stroke="#222" stroke-width="0.4">0.8</text>
<text transform="translate(56.58 65.46) scale(1.1374 1)" font-size="21.4" letter-spacing="0.000" fill="#222" stroke="#222" stroke-width="0.4">20</text>
<text transform="translate(70.15 192.80) scale(1.1339 1)" font-size="21.4" letter-spacing="0.000" fill="#222" stroke="#222" stroke-width="0.4">0</text>
<text transform="translate(56.58 320.14) scale(1.1374 1)" font-size="21.4" letter-spacing="0.000" fill="#222" stroke="#222" stroke-width="0.4">20</text>
<text transform="translate(40.67 320.84) scale(1.1638 1)" font-size="21.4" letter-spacing="0.000" fill="#222" stroke="#222" stroke-width="0.4">−</text>
<text class="i" transform="translate(241.70 464.68) scale(0.1813 0.2215)" font-size="100" fill="#222" stroke="#222" stroke-width="2.2">ω</text>
<path d="M262.60 448.00 H257.80 V468.80 H262.60" fill="none" stroke="#222" stroke-width="1.6"/>
<text class="s" transform="translate(265.39 464.78) scale(0.2582 0.2296)" font-size="100" fill="#222" stroke="#222" stroke-width="0.9">a</text>
<rect x="279.8" y="462.7" width="2.2" height="2.4" rx="0.5" fill="#222"/>
<text class="s" transform="translate(285.10 464.78) scale(0.3002 0.2261)" font-size="100" fill="#222" stroke="#222" stroke-width="0.9">u</text>
<path d="M302.80 448.00 H307.40 V468.80 H302.80" fill="none" stroke="#222" stroke-width="1.6"/>
<text class="i" transform="translate(23.05 255.86) rotate(-90) scale(0.2540 0.2407)" font-size="100" fill="#222" stroke="#222" stroke-width="2.6">α</text>
<path d="M4.90 232.00 V238.20 H27.00 V232.00" fill="none" stroke="#222" stroke-width="1.6"/>
<text class="s" transform="translate(23.16 231.24) rotate(-90) scale(0.2683 0.2463)" font-size="100" fill="#222" stroke="#222" stroke-width="0.9">a</text>
<rect x="21.0" y="215.5" width="2.4" height="2.2" rx="0.5" fill="#222"/>
<text class="s" transform="translate(23.16 213.98) rotate(-90) scale(0.2917 0.2432)" font-size="100" fill="#222" stroke="#222" stroke-width="0.9">u</text>
<rect x="21.0" y="194.9" width="2.4" height="2.2" rx="0.5" fill="#222"/>
<path d="M4.90 189.00 V183.10 H27.00 V189.00" fill="none" stroke="#222" stroke-width="1.6"/>
<text class="s" transform="translate(145.22 220.80) scale(1.0800 1)" font-size="15.5" letter-spacing="-0.863" fill="#222" stroke="#222" stroke-width="0.42">Kar</text>
<text class="s" transform="translate(178.46 220.80) scale(1.0800 1)" font-size="15.5" letter-spacing="0.619" fill="#222" stroke="#222" stroke-width="0.42">(2012)</text>
<text class="s" transform="translate(145.22 243.15) scale(1.0800 1)" font-size="15.5" letter-spacing="-0.256" fill="#222" stroke="#222" stroke-width="0.42">Masili</text>
<text class="s" transform="translate(195.63 243.15) scale(0.8046 1)" font-size="15.5" letter-spacing="0.000" fill="#222" stroke="#222" stroke-width="0.42">&amp;</text>
<text class="s" transform="translate(213.18 243.15) scale(1.0800 1)" font-size="15.5" letter-spacing="1.288" fill="#222" stroke="#222" stroke-width="0.42">Starace</text>
<text class="s" transform="translate(278.86 243.15) scale(1.0800 1)" font-size="15.5" letter-spacing="0.545" fill="#222" stroke="#222" stroke-width="0.42">(2003)</text>
<text class="s" transform="translate(145.22 265.50) scale(1.0800 1)" font-size="15.5" letter-spacing="0.277" fill="#222" stroke="#222" stroke-width="0.42">Bishop</text>
<text class="s" transform="translate(203.33 265.50) scale(0.8046 1)" font-size="15.5" letter-spacing="0.000" fill="#222" stroke="#222" stroke-width="0.42">&amp;</text>
<text class="s" transform="translate(221.92 265.50) scale(1.0800 1)" font-size="15.5" letter-spacing="0.078" fill="#222" stroke="#222" stroke-width="0.42">Lam</text>
<text class="s" transform="translate(261.16 265.50) scale(1.0800 1)" font-size="15.5" letter-spacing="0.600" fill="#222" stroke="#222" stroke-width="0.42">(1988)</text>
<text class="s" transform="translate(145.22 287.85) scale(1.0800 1)" font-size="15.5" letter-spacing="0.520" fill="#222" stroke="#222" stroke-width="0.42">Reinsch</text>
<text class="s" transform="translate(212.46 287.85) scale(1.0800 1)" font-size="15.5" letter-spacing="0.489" fill="#222" stroke="#222" stroke-width="0.42">(1985)</text>
<text class="s" transform="translate(145.01 310.20) scale(1.0800 1)" font-size="15.5" letter-spacing="0.194" fill="#222" stroke="#222" stroke-width="0.42">Glover</text>
<text class="s" transform="translate(201.74 310.20) scale(0.7867 1)" font-size="15.5" letter-spacing="0.000" fill="#222" stroke="#222" stroke-width="0.42">&amp;</text>
<text class="s" transform="translate(220.18 310.20) scale(1.0800 1)" font-size="15.5" letter-spacing="-0.224" fill="#222" stroke="#222" stroke-width="0.42">Weinhold</text>
<text class="s" transform="translate(293.86 310.20) scale(1.0800 1)" font-size="15.5" letter-spacing="0.637" fill="#222" stroke="#222" stroke-width="0.42">(1976)</text>
<text class="s" transform="translate(145.01 332.55) scale(1.0800 1)" font-size="15.5" letter-spacing="0.569" fill="#222" stroke="#222" stroke-width="0.42">Chung</text>
<text class="s" transform="translate(200.36 332.55) scale(1.0800 1)" font-size="15.5" letter-spacing="0.323" fill="#222" stroke="#222" stroke-width="0.42">(1968)</text>
<text class="s" transform="translate(145.22 354.90) scale(1.0800 1)" font-size="15.5" letter-spacing="1.017" fill="#222" stroke="#222" stroke-width="0.42">Experiments</text>
<text class="s" transform="translate(145.40 377.25) scale(1.0800 1)" font-size="15.5" letter-spacing="0.107" fill="#222" stroke="#222" stroke-width="0.42">This</text>
<text class="s" transform="translate(183.98 377.25) scale(1.0800 1)" font-size="15.5" letter-spacing="0.097" fill="#222" stroke="#222" stroke-width="0.42">work</text>
<path d="M134.00 213.30 L137.29 219.00 L130.71 219.00 Z" fill="#800080"/>
<path d="M134.00 234.80 L137.81 241.40 L130.19 241.40 Z" fill="none" stroke="#0a8a0a" stroke-width="1.35" stroke-linejoin="miter"/>
<rect x="131.40" y="258.50" width="5.20" height="5.20" fill="none" stroke="#1e6fd0" stroke-width="1.5"/>
<path d="M129.20 278.85 L138.80 288.45 M129.20 288.45 L138.80 278.85" stroke="#00cd66" stroke-width="1.4" fill="none"/>
<circle cx="134.00" cy="306.00" r="3.65" fill="#808000"/>
<circle cx="134.00" cy="328.35" r="3.5" fill="none" stroke="#d01818" stroke-width="1.4"/>
<path d="M132.20 348.90 L135.80 352.50 M132.20 352.50 L135.80 348.90" stroke="#cdcd00" stroke-width="1.2" fill="none"/>
<line x1="112" y1="373.1" x2="139" y2="373.1" stroke="#3a3a3a" stroke-width="1.2"/>
</svg></body></html>
